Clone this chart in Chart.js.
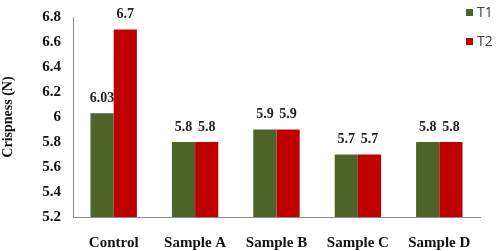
<!DOCTYPE html>
<html><head><meta charset="utf-8">
<script src="https://cdn.jsdelivr.net/npm/chart.js@4/dist/chart.umd.min.js"></script>
<style>html,body{margin:0;padding:0;background:#fff}#wrap{width:500px;height:251px}</style>
</head><body><div id="wrap"><canvas id="c" width="500" height="251"></canvas></div>
<script>
const categories = ["Control", "Sample A", "Sample B", "Sample C", "Sample D"];
const seriesNames = ["T1", "T2"];
const t1Values = [6.03, 5.8, 5.9, 5.7, 5.8];
const t2Values = [6.7, 5.8, 5.9, 5.7, 5.8];
const t1Labels = ["6.03", "5.8", "5.9", "5.7", "5.8"];
const t2Labels = ["6.7", "5.8", "5.9", "5.7", "5.8"];
const yTickLabels = ["5.2", "5.4", "5.6", "5.8", "6", "6.2", "6.4", "6.6", "6.8"];
const yMin = 5.2, yMax = 6.8, yStep = 0.2;
const colors = ["#4F6228", "#C00000"];
const serif = "'Liberation Serif', 'Times New Roman', serif";

const valueLabelPlugin = {
  id: 'valueLabels',
  afterDatasetsDraw(chart) {
    const ctx = chart.ctx;
    const labelSets = [t1Labels, t2Labels];
    ctx.save();
    ctx.font = "bold 14px " + serif;
    ctx.fillStyle = "#222";
    ctx.textAlign = "center";
    ctx.textBaseline = "middle";
    chart.data.datasets.forEach((ds, di) => {
      chart.getDatasetMeta(di).data.forEach((el, i) => {
        ctx.fillText(labelSets[di][i], el.x, el.y - 15);
      });
    });
    ctx.restore();
  }
};

const legendPlugin = {
  id: 'customLegend',
  afterDraw(chart) {
    const ctx = chart.ctx;
    ctx.save();
    ctx.font = "14px 'Open Sans', 'DejaVu Sans', sans-serif";
    ctx.textBaseline = "middle";
    ctx.textAlign = "left";
    chart.data.datasets.forEach((ds, i) => {
      const y = 13 + i * 29;
      ctx.fillStyle = ds.backgroundColor;
      ctx.fillRect(466, y - 4, 7, 7);
      ctx.fillStyle = "#404040";
      ctx.fillText(ds.label, 477, y);
    });
    ctx.restore();
  }
};

new Chart(document.getElementById('c'), {
  type: 'bar',
  data: {
    labels: categories,
    datasets: [
      { label: seriesNames[0], data: t1Values, backgroundColor: colors[0] },
      { label: seriesNames[1], data: t2Values, backgroundColor: colors[1] }
    ]
  },
  options: {
    responsive: false,
    animation: false,
    devicePixelRatio: 1,
    layout: { padding: { top: 13, right: 20, left: 0, bottom: 0 } },
    datasets: { bar: { categoryPercentage: 0.57, barPercentage: 1.0 } },
    plugins: { legend: { display: false }, tooltip: { enabled: false } },
    scales: {
      x: {
        grid: { display: false, drawTicks: false },
        border: { color: '#8c8c8c', width: 1 },
        ticks: { color: '#111', font: { family: serif, size: 15, weight: 'bold' }, padding: 17 },
        afterFit(s) { s.height = 34; }
      },
      y: {
        min: yMin, max: yMax,
        grid: { display: false, drawOnChartArea: false, drawTicks: true, tickLength: 4, color: '#8c8c8c' },
        border: { color: '#8c8c8c', width: 1 },
        ticks: {
          stepSize: yStep,
          color: '#111',
          font: { family: serif, size: 15, weight: 'bold' },
          padding: 8,
          callback: (v, i) => yTickLabels[i]
        },
        title: { display: true, text: 'Crispness (N)', color: '#111', font: { family: serif, size: 14, weight: 'bold' }, padding: 0 },
        afterFit(s) { s.width = 73; }
      }
    }
  },
  plugins: [valueLabelPlugin, legendPlugin]
});
</script></body></html>
